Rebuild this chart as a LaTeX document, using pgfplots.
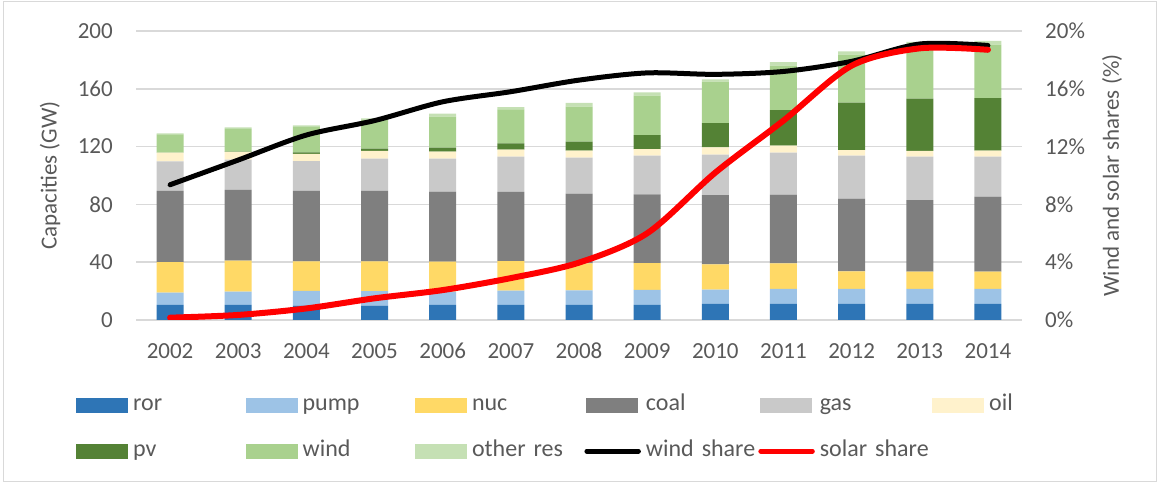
\documentclass[border=0pt]{standalone}
\usepackage{fontspec}
\setmainfont{Carlito}
\usepackage{pgfplots}
\usepackage{pgfplotstable}
\pgfplotsset{compat=1.18}
\definecolor{cror}{HTML}{2E75B6}
\definecolor{cpump}{HTML}{9DC3E6}
\definecolor{cnuc}{HTML}{FFD966}
\definecolor{ccoal}{HTML}{7F7F7F}
\definecolor{cgas}{HTML}{C9C9C9}
\definecolor{coil}{HTML}{FFF2CC}
\definecolor{cpv}{HTML}{548235}
\definecolor{cwind}{HTML}{A9D18E}
\definecolor{cother}{HTML}{C5E0B4}
\definecolor{tgray}{HTML}{595959}
\definecolor{ggray}{HTML}{D9D9D9}
\definecolor{cred}{HTML}{FF0000}
\pgfplotstableread{
x ror pump nuc coal gas oil pv wind other
0 10.4 8.5 21.2 49.2 20.5 6.0 0.1 12.6 0.7
1 10.4 9.2 21.5 48.9 21.0 5.3 0.2 15.7 1.1
2 10.0 10.1 20.5 48.7 20.7 4.9 1.1 17.6 1.1
3 10.0 10.0 20.6 48.7 22.3 5.4 1.6 19.8 1.2
4 10.4 9.2 20.8 48.4 22.8 4.9 2.8 21.4 2.1
5 10.4 9.9 20.5 47.8 24.4 4.9 4.4 23.5 1.6
6 10.4 10.1 18.7 48.2 24.9 4.9 6.2 24.2 2.6
7 10.4 10.4 18.6 47.6 26.7 4.6 9.7 27.2 2.4
8 11.1 9.9 17.5 48.0 27.9 5.1 16.8 28.6 1.7
9 11.1 10.4 17.7 47.5 29.1 4.8 24.7 30.7 2.5
10 11.1 10.4 12.2 50.3 29.7 3.9 32.8 33.2 2.3
11 11.1 10.4 11.9 49.6 30.0 4.0 36.2 36.4 2.8
12 11.1 10.4 11.9 52.0 27.6 4.2 36.4 36.9 2.6
}\capdata
\pgfplotstableread{
x wind solar
0 9.36 0.16
1 11.07 0.35
2 12.8 0.8
3 13.8 1.5
4 15.1 2.07
5 15.8 2.9
6 16.6 3.97
7 17.1 6.0
8 17.0 10.2
9 17.2 13.8
10 17.9 17.6
11 19.1 18.8
12 19.0 18.7
}\shares
\newcommand{\swatch}[1]{\path[draw=none,fill=none] (0pt,-10pt) rectangle (52pt,10pt); \path[draw=none,fill=#1] (0pt,-7.5pt) rectangle (52pt,7.5pt);}
\newcommand{\lineimg}[1]{\path[draw=none,fill=none] (0pt,-10pt) rectangle (52pt,10pt); \path[draw=#1,fill=none,line width=5pt,line cap=round] (0.5pt,0pt) -- (52pt,0pt);}
\begin{document}
\begin{tikzpicture}[font=\fontsize{23}{27.6}\selectfont, text=tgray]
\useasboundingbox (0,0) rectangle (1159pt,484pt);
\draw[ggray, line width=1pt] (3pt,2pt) rectangle (1156pt,482pt);
\begin{axis}[
  at={(136pt,164pt)}, anchor=south west, scale only axis,
  width=886pt, height=289pt,
  ybar stacked, bar width=27pt,
  xmin=-0.5, xmax=12.5, ymin=0, ymax=200,
  xtick={0,...,12},
  xticklabels={2002,2003,2004,2005,2006,2007,2008,2009,2010,2011,2012,2013,2014},
  ytick={0,40,...,200},
  axis x line*=bottom,
  separate axis lines,
  x axis line style={ggray, line width=1.5pt, -},
  y axis line style={draw=none},
  major tick length=0pt,
  ymajorgrids, grid style={ggray, line width=1.5pt},
  yticklabel style={inner sep=0pt, anchor=east, xshift=-23pt},
  xticklabel style={inner sep=0pt, anchor=north, yshift=-23pt},
  /pgf/number format/assume math mode=true,
  ylabel={Capacities (GW)},
  every axis y label/.style={at={(axis description cs:-0.097,0.5)}, rotate=90, anchor=center},
]
\addplot[fill=cror, draw=none] table[x=x,y=ror]{\capdata};
\addplot[fill=cpump, draw=none] table[x=x,y=pump]{\capdata};
\addplot[fill=cnuc, draw=none] table[x=x,y=nuc]{\capdata};
\addplot[fill=ccoal, draw=none] table[x=x,y=coal]{\capdata};
\addplot[fill=cgas, draw=none] table[x=x,y=gas]{\capdata};
\addplot[fill=coil, draw=none] table[x=x,y=oil]{\capdata};
\addplot[fill=cpv, draw=none] table[x=x,y=pv]{\capdata};
\addplot[fill=cwind, draw=none] table[x=x,y=wind]{\capdata};
\addplot[fill=cother, draw=none] table[x=x,y=other]{\capdata};
\end{axis}
\begin{axis}[
  at={(136pt,164pt)}, anchor=south west, scale only axis,
  width=886pt, height=289pt,
  xmin=-0.5, xmax=12.5, ymin=0, ymax=20,
  axis x line=none, axis y line*=right,
  y axis line style={draw=none},
  major tick length=0pt,
  ytick={0,4,...,20},
  yticklabels={0\%,4\%,8\%,12\%,16\%,20\%},
  yticklabel style={inner sep=0pt, anchor=west, xshift=23pt},
  ylabel={Wind and solar shares (\%)},
  every axis y label/.style={at={(axis description cs:1.1016,0.5)}, rotate=90, anchor=center},
  legend columns=6,
  legend cell align=left,
  legend style={draw=none, fill=none, inner sep=0pt,
    at={(-0.0677,-0.256)}, anchor=north west,
    font=\fontsize{24}{28}\selectfont,
    nodes={inner sep=0pt, text height=16pt, text depth=6pt, text width=112.4pt},
    row sep=24pt, column sep=0pt,
    /tikz/every odd column/.append style={column sep=5pt}},
]
\addlegendimage{legend image code/.code={\swatch{cror}}}
\addlegendimage{legend image code/.code={\swatch{cpump}}}
\addlegendimage{legend image code/.code={\swatch{cnuc}}}
\addlegendimage{legend image code/.code={\swatch{ccoal}}}
\addlegendimage{legend image code/.code={\swatch{cgas}}}
\addlegendimage{legend image code/.code={\swatch{coil}}}
\addlegendimage{legend image code/.code={\swatch{cpv}}}
\addlegendimage{legend image code/.code={\swatch{cwind}}}
\addlegendimage{legend image code/.code={\swatch{cother}}}
\addplot[black, line width=5pt, smooth, line cap=round, line join=round,
  legend image code/.code={\lineimg{black}}]
  table[x=x,y=wind]{\shares};
\addplot[cred, line width=6pt, smooth, line cap=round, line join=round,
  legend image code/.code={\lineimg{cred}}]
  table[x=x,y=solar]{\shares};
\legend{ror,pump,nuc,coal,gas,oil,pv,wind,other res,wind share,solar share}
\end{axis}
\end{tikzpicture}
\end{document}
